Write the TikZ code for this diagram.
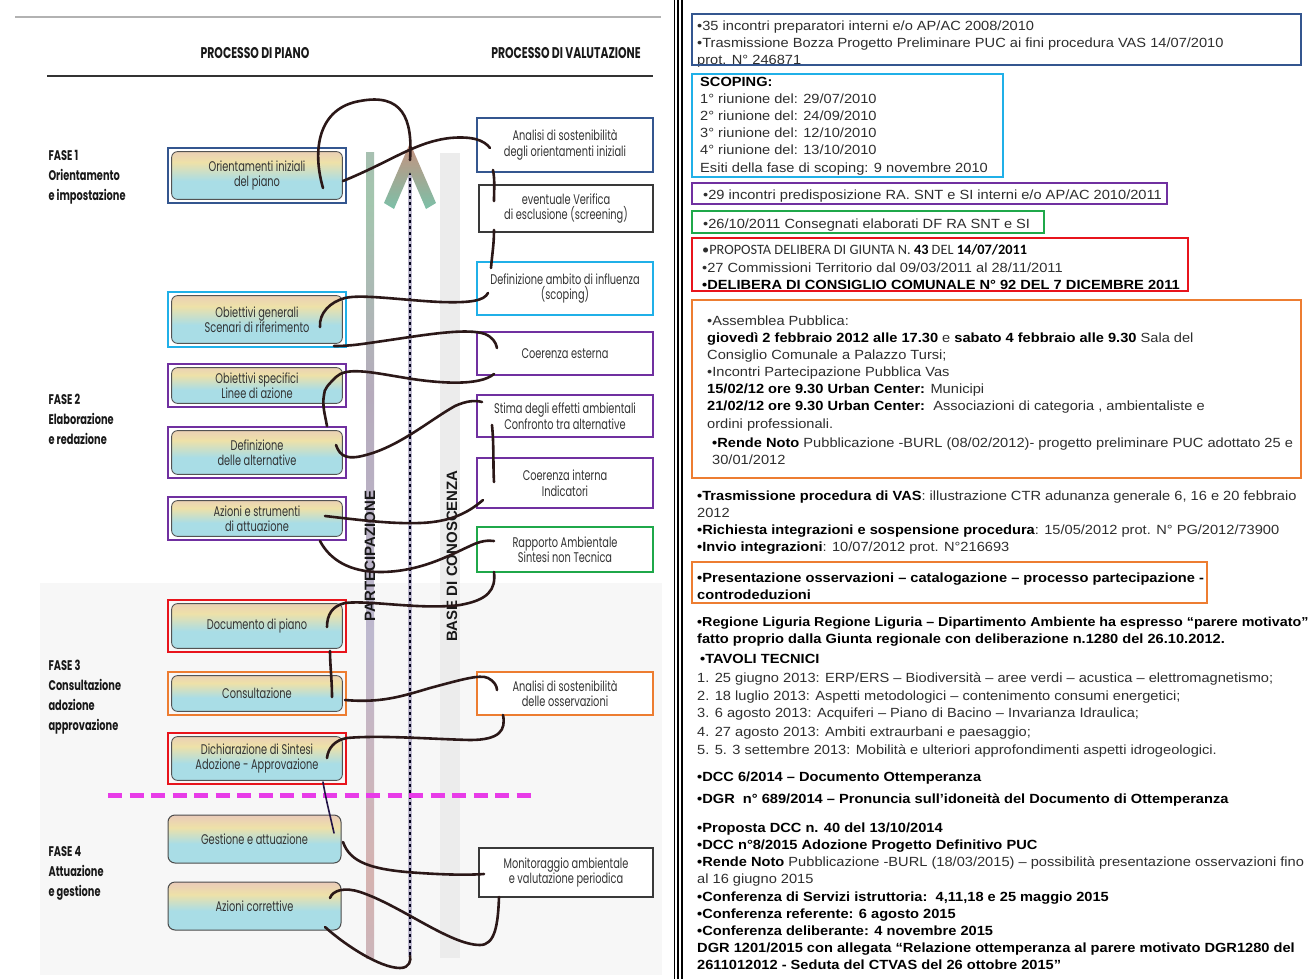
\documentclass[tikz,border=0pt]{standalone}
\usepackage{fontspec}
\setmainfont{Liberation Sans}
\newfontfamily\arialw{Liberation Sans}[FakeStretch=1.1]
\newfontfamily\calw{Carlito}
\newfontfamily\gothic{Poppins}[FakeStretch=0.7]
\usetikzlibrary{calc}
\definecolor{navyb}{HTML}{34568F}
\definecolor{cyanb}{HTML}{20B0E8}
\definecolor{purpb}{HTML}{7030A0}
\definecolor{greenb}{HTML}{1FA84A}
\definecolor{redb}{HTML}{E8141C}
\definecolor{orangeb}{HTML}{ED7D31}
\definecolor{magdash}{HTML}{E83CE8}
\definecolor{curvec}{HTML}{2B1818}
\definecolor{ltext}{HTML}{333333}
\definecolor{rtext}{HTML}{2E2E2E}
\definecolor{rbP}{HTML}{E6B9C6}
\definecolor{rbY}{HTML}{EEE1A8}
\definecolor{rbC}{HTML}{A9DDE6}
\definecolor{rbL}{HTML}{D6C3D8}
\definecolor{pb1}{HTML}{B6ABBC}
\definecolor{pb2}{HTML}{A3C6AE}
\definecolor{pb3}{HTML}{BDB8CE}
\definecolor{pb4}{HTML}{D5B3B0}
\definecolor{pb5}{HTML}{B9B9CF}
\definecolor{arrtop}{HTML}{C8907E}
\definecolor{arrbot}{HTML}{7CC0A8}
\definecolor{basegray}{HTML}{ECECEC}
\pgfdeclareverticalshading{rainbow}{100bp}{color(0bp)=(rbL); color(22bp)=(rbC); color(45bp)=(rbC); color(62bp)=(rbY); color(85bp)=(rbP); color(100bp)=(rbP)}
\pgfdeclareverticalshading{partbar}{20bp}{color(0bp)=(pb4); color(15bp)=(pb5); color(30bp)=(pb4); color(45bp)=(pb3); color(60bp)=(pb1); color(72bp)=(pb2); color(85bp)=(pb1); color(100bp)=(pb1)}
\newcommand\bx[1]{\textbf{\color{black}#1}}
\newcommand\RLine[4]{\node[rtxt] (#1) at (#2,#3) {#4};}
\newcommand\RBold[4]{\node[rtxt,font=\arialw\bfseries\fontsize{13.3}{16}\selectfont,text=black] (#1) at (#2,#3) {#4};}
\begin{document}
\begin{tikzpicture}[x=1pt,y=-1pt,
  lbox/.style={draw=#1, line width=2.6pt, minimum width=178pt, inner sep=0pt, outer sep=0pt,
    align=center, text=ltext, font=\gothic\fontsize{14}{15.5}\selectfont,
    path picture={\shade[shading=rainbow, draw=gray!65!black, line width=0.9pt, rounded corners=6pt]
      ([shift={(3.6pt,3.6pt)}]path picture bounding box.south west) rectangle
      ([shift={(-3.6pt,-3.6pt)}]path picture bounding box.north east);}},
  lplain/.style={shading=rainbow, draw=gray!60!black, line width=1pt, rounded corners=7pt,
    minimum width=173pt, inner sep=0pt, outer sep=0pt, align=center, text=ltext,
    font=\gothic\fontsize{14}{15.5}\selectfont},
  rbox/.style={draw=#1, line width=2.6pt, fill=white, minimum width=176pt, inner sep=0pt,
    outer sep=0pt, align=center, text=ltext, font=\gothic\fontsize{14}{15.5}\selectfont},
  rthin/.style={draw=gray!45!black, line width=1.1pt, fill=white, minimum width=174pt,
    inner sep=0pt, outer sep=0pt, align=center, text=ltext, font=\gothic\fontsize{14}{15.5}\selectfont},
  fase/.style={anchor=west, align=left, text=black!90, font=\gothic\bfseries\fontsize{14}{20}\selectfont},
  hdr/.style={text=black!90, font=\gothic\bfseries\fontsize{15.5}{15.5}\selectfont},
  vlab/.style={rotate=90, text=black!90, font=\bfseries\fontsize{15}{15}\selectfont},
  conn/.style={draw=curvec, line width=2.6pt, line cap=round},
  thinconn/.style={draw=curvec!80!blue, line width=1.6pt, line cap=round},
  rtxt/.style={anchor=base west, inner sep=0pt, text=rtext, font=\arialw\fontsize{13.3}{16}\selectfont},
  rframe/.style={draw=#1, line width=2.6pt}
]
\useasboundingbox (0,0) rectangle (1315,979);
\fill[white] (0,0) rectangle (1315,979);
% faint background of lower left part
\fill[black!3] (40,583) rectangle (662,975);
% panel lines
\draw[gray!60, line width=1.2pt] (15,17) -- (661,17);
\draw[black!80, line width=1.5pt] (47,76) -- (653,76);
\draw[black, line width=1.4pt] (674.5,0) -- (674.5,979);
\draw[black, line width=2pt] (678,0) -- (678,979);
\draw[black, line width=2pt] (682,0) -- (682,979);
% headers
\node[hdr] (hpiano) at (255,53) {PROCESSO DI PIANO};
\node[hdr] (hval) at (566,53) {PROCESSO DI VALUTAZIONE};
% fasi
\node[fase] (f1) at (45,177) {FASE 1\\Orientamento\\e impostazione};
\node[fase] (f2) at (45,419) {FASE 2\\Elaborazione\\e redazione};
\node[fase] (f3) at (45,697) {FASE 3\\Consultazione\\adozione\\approvazione};
\node[fase] (f4) at (45,873) {FASE 4\\Attuazione\\e gestione};
% bars
\shade[shading=partbar] (360,153) rectangle (380,958);
\fill[basegray] (440,153) rectangle (460,958);
\coordinate (dottop) at (410,160);
\coordinate (dotbot) at (410,956);
\draw[line width=4pt, color=pb3] (dottop) -- (dotbot);
\draw[line width=2.8pt, color=black!90!blue, dash pattern=on 3pt off 3pt] (dottop) -- (dotbot);
\shade[top color=arrtop, bottom color=arrbot] (410,143) -- (436,203) -- (426,209) -- (410,172) -- (394,209) -- (384,203) -- cycle;
\node[vlab] (partlab) at (370,556) {PARTECIPAZIONE};
\node[vlab] (baselab) at (452,556) {BASE DI CONOSCENZA};
% magenta dashed line
\draw[line width=5pt, color=magdash, dash pattern=on 14pt off 7.5pt] (108,795) -- (538,795);
% left boxes
\node[lbox=navyb, minimum height=55pt] (o1) at (257,175.5) {Orientamenti iniziali\\del piano};
\node[lbox=cyanb, minimum height=55pt] (o2) at (257,319.5) {Obiettivi generali\\Scenari di riferimento};
\node[lbox=purpb, minimum height=43pt] (o3) at (257,385.5) {Obiettivi specifici\\Linee di azione};
\node[lbox=purpb, minimum height=51pt] (o4) at (257,452.5) {Definizione\\delle alternative};
\node[lbox=purpb, minimum height=43pt] (o5) at (257,518.5) {Azioni e strumenti\\di attuazione};
\node[lbox=redb, minimum height=52pt] (o6) at (257,626) {Documento di piano};
\node[lbox=orangeb, minimum height=43pt] (o7) at (257,693.5) {Consultazione};
\node[lbox=redb, minimum height=51pt] (o8) at (257,758.5) {Dichiarazione di Sintesi\\Adozione - Approvazione};
\node[lplain, minimum height=48pt] (o9) at (254.5,839) {Gestione e attuazione};
\node[lplain, minimum height=48pt] (o10) at (254.5,906) {Azioni correttive};
% right boxes
\node[rbox=navyb, minimum height=54pt] (v1) at (565,145) {Analisi di sostenibilità\\degli orientamenti iniziali};
\node[rthin, minimum height=47pt] (v2) at (566,208.5) {eventuale Verifica\\di esclusione (screening)};
\node[rbox=cyanb, minimum height=53pt] (v3) at (565,288.5) {Definizione ambito di influenza\\(scoping)};
\node[rbox=purpb, minimum height=43pt] (v4) at (565,353.5) {Coerenza esterna};
\node[rbox=purpb, minimum height=42pt] (v5) at (565,416) {Stima degli effetti ambientali\\Confronto tra alternative};
\node[rbox=purpb, minimum height=50pt] (v6) at (565,483) {Coerenza interna\\Indicatori};
\node[rbox=greenb, minimum height=45pt] (v7) at (565,549.5) {Rapporto Ambientale\\Sintesi non Tecnica};
\node[rbox=orangeb, minimum height=43pt] (v8) at (565,693.5) {Analisi di sostenibilità\\delle osservazioni};
\node[rthin, minimum height=49pt] (v9) at (566,872.5) {Monitoraggio ambientale\\e valutazione periodica};
% connectors
\draw[conn] ($(o1.south east)+(-23,-15)$) .. controls (312,150) and (318,108) .. (360,101)
  .. controls (402,93) and (413,118) .. (dottop);
\draw[conn] ($(o1.east)+(-3,5.5)$) .. controls (390,162) and (415,142) .. (450,138)
  .. controls (472,136) and (484,140) .. ($(v1.west)+(13,3)$);
\draw[conn] ($(v1.south west)+(16,-2)$) .. controls (495,180) and (494,190) .. ($(v2.north west)+(15,16)$);
\draw[conn] ($(v2.south west)+(15,-2)$) .. controls (494,245) and (492,255) .. ($(v3.north west)+(14,6)$);
\draw[conn] ($(v3.west)+(11,4.5)$) .. controls (484,301) and (470,303) .. (440,302)
  .. controls (400,300) and (362,294) .. (345,298) .. controls (330,302) and (319,313) .. ($(o2.south east)+(-26,-20)$);
\draw[conn] ($(o2.south east)+(-12,-1)$) .. controls (352,346) and (362,344) .. (390,340)
  .. controls (430,334) and (468,328) .. (485,334) .. controls (492,337) and (496,342) .. ($(v4.north west)+(20,16)$);
\draw[conn] ($(v4.south west)+(17,-1)$) .. controls (480,386) and (440,384) .. (400,377)
  .. controls (370,372) and (346,367) .. (336,377) .. controls (328,385) and (324,389) .. ($(o3.south east)+(-22,-12)$);
\draw[conn] ($(o3.south east)+(-22,-12)$) .. controls (322,405) and (325,415) .. ($(o4.north east)+(-19,-1)$);
\draw[conn] ($(o4.east)+(-10,-7.5)$) .. controls (340,457) and (348,460) .. (366,455)
  .. controls (400,446) and (430,420) .. (455,406) .. controls (466,401) and (475,400) .. ($(v5.west)+(5,-14)$);
\draw[conn] ($(v5.south west)+(15,-12)$) .. controls (494,445) and (493,465) .. ($(v6.west)+(17,-1)$);
\draw[conn] ($(v6.south west)+(6,-8)$) .. controls (468,513) and (450,522) .. (420,523)
  .. controls (390,524) and (360,520) .. ($(o5.east)+(-21,-2.5)$);
\draw[conn] ($(o5.south east)+(-26,1)$) .. controls (330,560) and (350,572) .. (380,572)
  .. controls (420,572) and (450,555) .. (470,546) .. controls (480,541) and (488,540) .. ($(v7.west)+(17,-8.5)$);
\draw[conn] ($(v7.south west)+(17,0)$) .. controls (496,590) and (488,600) .. (460,605)
  .. controls (420,610) and (370,600) .. (345,603) .. controls (332,606) and (327,615) .. ($(o6.east)+(-19,1)$);
\draw[conn] ($(o6.south east)+(-16,-1)$) .. controls (330,665) and (332,680) .. ($(o7.east)+(-14,3.5)$);
\draw[conn] ($(o7.east)+(-1,6.5)$) .. controls (380,703) and (400,697) .. (430,688)
  .. controls (460,680) and (480,674) .. (488,678) .. controls (494,681) and (497,686) .. ($(v8.west)+(20,-3.5)$);
\draw[conn] ($(v8.south west)+(26,0)$) .. controls (506,730) and (500,740) .. (470,740)
  .. controls (430,739) and (380,735) .. (347,738) .. controls (335,740) and (328,748) .. ($(o8.east)+(-19,-0.5)$);
\draw[thinconn] ($(o8.south east)+(-23,-2)$) .. controls (326,800) and (330,815) .. ($(o9.east)+(-7,-6)$);
\draw[conn] ($(o9.east)+(2,3)$) .. controls (350,862) and (370,870) .. (420,873)
  .. controls (450,875) and (470,875) .. ($(v9.west)+(5,1.5)$);
\draw[conn] ($(v9.south west)+(20,0)$) .. controls (498,925) and (495,945) .. (480,945)
  .. controls (450,945) and (400,905) .. (360,892) .. controls (345,887) and (333,890) .. ($(o10.east)+(-11,-8)$);
\draw[conn] ($(o10.south east)+(-16,-3)$) .. controls (345,945) and (380,968) .. (400,968)
  .. controls (410,968) and (411,960) .. (dotbot);
% ---------------- right panel ----------------
\RLine{r1a}{697}{31}{•35 incontri preparatori interni e/o AP/AC 2008/2010}
\RLine{r1b}{697}{48}{•Trasmissione Bozza Progetto Preliminare PUC ai fini procedura VAS 14/07/2010}
\RLine{r1c}{697}{65}{prot. N° 246871}
\RBold{r2a}{700}{87}{SCOPING:}
\RLine{r2b}{700}{104}{1° riunione del: 29/07/2010}
\RLine{r2c}{700}{121}{2° riunione del: 24/09/2010}
\RLine{r2d}{700}{138}{3° riunione del: 12/10/2010}
\RLine{r2e}{700}{155}{4° riunione del: 13/10/2010}
\RLine{r2f}{700}{173}{Esiti della fase di scoping: 9 novembre 2010}
\RLine{r3a}{703}{199}{•29 incontri predisposizione RA. SNT e SI interni e/o AP/AC 2010/2011}
\RLine{r4a}{703}{228}{•26/10/2011 Consegnati elaborati DF RA SNT e SI}
\node[rtxt, font=\calw\fontsize{14.3}{16}\selectfont] (r5a) at (702,254) {•PROPOSTA DELIBERA DI GIUNTA N. \bx{43} DEL \bx{14/07/2011}};
\RLine{r5b}{702}{272}{•27 Commissioni Territorio dal 09/03/2011 al 28/11/2011}
\RBold{r5c}{702}{289}{•DELIBERA DI CONSIGLIO COMUNALE N° 92 DEL 7 DICEMBRE 2011}
\RLine{r6a}{707}{325}{•Assemblea Pubblica:}
\RLine{r6b}{707}{342}{\bx{giovedì 2 febbraio 2012 alle 17.30} e \bx{sabato 4 febbraio alle 9.30} Sala del}
\RLine{r6c}{707}{359}{Consiglio Comunale a Palazzo Tursi;}
\RLine{r6d}{707}{376}{•Incontri Partecipazione Pubblica Vas}
\RLine{r6e}{707}{393}{\bx{15/02/12 ore 9.30 Urban Center:} Municipi}
\RLine{r6f}{707}{410}{\bx{21/02/12 ore 9.30 Urban Center:}\ \ Associazioni di categoria , ambientaliste e}
\RLine{r6g}{707}{428}{ordini professionali.}
\RLine{r6h}{712}{447}{\bx{•Rende Noto} Pubblicazione -BURL (08/02/2012)- progetto preliminare PUC adottato 25 e}
\RLine{r6i}{712}{464}{30/01/2012}
\RLine{t1}{697}{500}{\bx{•Trasmissione procedura di VAS}: illustrazione CTR adunanza generale 6, 16 e 20 febbraio}
\RLine{t2}{697}{517}{2012}
\RLine{t3}{697}{534}{\bx{•Richiesta integrazioni e sospensione procedura}: 15/05/2012 prot. N° PG/2012/73900}
\RLine{t4}{697}{551}{\bx{•Invio integrazioni}: 10/07/2012 prot. N°216693}
\RBold{r7a}{697}{582}{•Presentazione osservazioni – catalogazione – processo partecipazione -}
\RBold{r7b}{697}{599}{controdeduzioni}
\node[rtxt,font=\arialw\bfseries\fontsize{13}{16}\selectfont,text=black] (u1) at (697,626) {•Regione Liguria Regione Liguria – Dipartimento Ambiente ha espresso “parere motivato”};
\RBold{u2}{697}{643.5}{fatto proprio dalla Giunta regionale con deliberazione n.1280 del 26.10.2012.}
\RBold{u3}{700}{663.5}{•TAVOLI TECNICI}
\RLine{u4}{697}{682}{1. 25 giugno 2013: ERP/ERS – Biodiversità – aree verdi – acustica – elettromagnetismo;}
\RLine{u5}{697}{700}{2. 18 luglio 2013: Aspetti metodologici – contenimento consumi energetici;}
\RLine{u6}{697}{717.5}{3. 6 agosto 2013: Acquiferi – Piano di Bacino – Invarianza Idraulica;}
\RLine{u7}{697}{736}{4. 27 agosto 2013: Ambiti extraurbani e paesaggio;}
\RLine{u8}{697}{754}{5. 5. 3 settembre 2013: Mobilità e ulteriori approfondimenti aspetti idrogeologici.}
\RBold{u9}{697}{781}{•DCC 6/2014 – Documento Ottemperanza}
\RBold{u10}{697}{803}{•DGR\ \ n° 689/2014 – Pronuncia sull’idoneità del Documento di Ottemperanza}
\RBold{w1}{697}{832}{•Proposta DCC n. 40 del 13/10/2014}
\RBold{w2}{697}{849}{•DCC n°8/2015 Adozione Progetto Definitivo PUC}
\RLine{w3}{697}{866}{\bx{•Rende Noto} Pubblicazione -BURL (18/03/2015) – possibilità presentazione osservazioni fino}
\RLine{w4}{697}{883}{al 16 giugno 2015}
\RBold{w5}{697}{901}{•Conferenza di Servizi istruttoria:\ \ 4,11,18 e 25 maggio 2015}
\RBold{w6}{697}{918}{•Conferenza referente: 6 agosto 2015}
\RBold{w7}{697}{935}{•Conferenza deliberante: 4 novembre 2015}
\RBold{w8}{697}{952}{DGR 1201/2015 con allegata “Relazione ottemperanza al parere motivato DGR1280 del}
\RBold{w9}{697}{969}{2611012012 - Seduta del CTVAS del 26 ottobre 2015”}
% right frames
\draw[rframe=navyb] (692,14) rectangle (1301,65);
\draw[rframe=cyanb] (692,74) rectangle (1003,177);
\draw[rframe=purpb] (692,183) rectangle (1167,204);
\draw[rframe=greenb] (692,211) rectangle (1044,233);
\draw[rframe=redb] (692,238) rectangle (1188,291);
\draw[rframe=orangeb] (692,300) rectangle (1301,478);
\draw[rframe=orangeb] (692,562) rectangle (1207,603);
\end{tikzpicture}
\end{document}
